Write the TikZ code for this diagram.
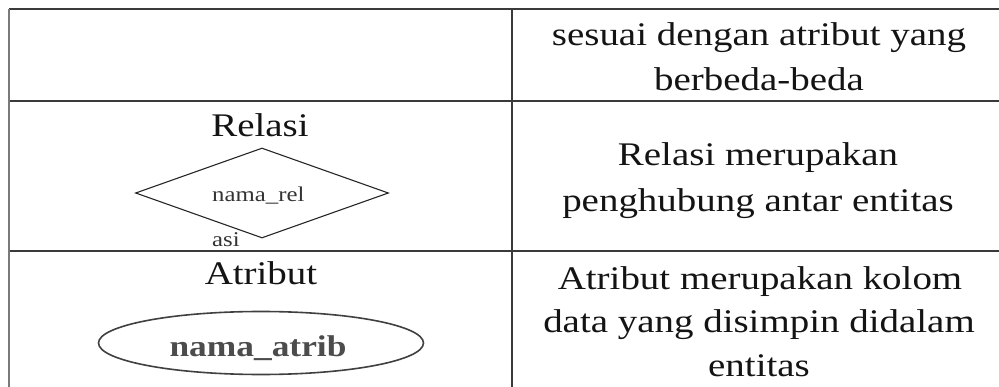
\documentclass[tikz,border=0pt]{standalone}
\usepackage{fontspec}
\setmainfont{Liberation Serif}
\newfontfamily\tnr[FakeStretch=1.18]{Liberation Serif}
\usetikzlibrary{shapes.geometric}
\definecolor{rule}{HTML}{3A3A3A}
\definecolor{lrule}{HTML}{7A7A7A}
\tikzset{
  grid/.style={draw=rule, line width=1.7pt},
  edge/.style={draw=lrule, line width=1.9pt},
  body/.style={inner sep=0pt, anchor=base, text=black!92, font=\tnr\fontsize{33}{45}\selectfont},
  small/.style={inner sep=0pt, anchor=base west, text=black!80, font=\tnr\fontsize{21}{45}\selectfont},
  shapeline/.style={draw=black!85, line width=1.1pt},
}
\begin{document}
\begin{tikzpicture}[x=1pt,y=-1pt]
\useasboundingbox (0,0) rectangle (999,387);
% table rules
\coordinate (tl) at (9,9);
\coordinate (tr) at (999,9);
\coordinate (bl) at (9,387);
\coordinate (m1l) at (9,101);
\coordinate (m1r) at (999,101);
\coordinate (m2l) at (9,251);
\coordinate (m2r) at (999,251);
\coordinate (ct) at (512,9);
\coordinate (cb) at (512,387);
\draw[grid] (tl) -- (tr);
\draw[grid] (m1l) -- (m1r);
\draw[grid] (m2l) -- (m2r);
\draw[grid] (ct) -- (cb);
\draw[edge] (tl) -- (bl);
% row 1 right
\node[body] (r1a) at (759,46) {sesuai dengan atribut yang};
\node[body] (r1b) at (759,91) {berbeda-beda};
% row 2 left
\node[body] (relt) at (260,137) {Relasi};
\node[shapeline, diamond, minimum width=253pt, minimum height=90pt, inner sep=0pt, aspect=2.8] (dia) at (262,193) {};
\node[small] (dtxt1) at (212,202) {nama\_rel};
\node[small] (dtxt2) at (212,247) {asi};
% row 2 right
\node[body] (r2a) at (758,166) {Relasi merupakan};
\node[body] (r2b) at (758,212) {penghubung antar entitas};
% row 3 left
\node[body] (att) at (261,285) {Atribut};
\node[shapeline, ellipse, minimum width=325pt, minimum height=63pt, inner sep=0pt, line width=1.6pt, draw=black!75] (ell) at (261,343) {};
\node[inner sep=0pt, anchor=base, text=black!70, font=\tnr\bfseries\fontsize{30}{36}\selectfont] (etxt) at (258,357) {nama\_atrib};
% row 3 right
\node[body] (r3a) at (760,290) {Atribut merupakan kolom};
\node[body] (r3b) at (759,333) {data yang disimpin didalam};
\node[body] (r3c) at (759,377) {entitas};
\end{tikzpicture}
\end{document}
